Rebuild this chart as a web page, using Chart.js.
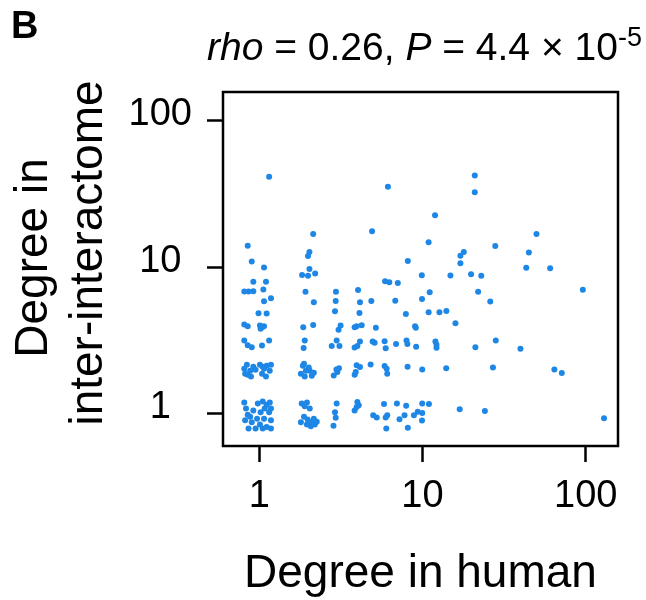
<!DOCTYPE html>
<html>
<head>
<meta charset="utf-8">
<script src="https://cdn.jsdelivr.net/npm/chart.js@4"></script>
<style>
  body { margin: 0; background: #fff; }
  canvas { display: block; }
</style>
</head>
<body>
<canvas id="chart" width="646" height="600"></canvas>
<script>
// degree of each protein in the human network (x) and in the inter-interactome (y), jittered
const humanDegree = [
  // ~1
  1.15, 0.85, 0.90, 1.07, 0.92, 1.10, 0.81, 0.86, 0.92, 1.06, 1.07, 1.18, 0.99, 1.11,
  0.81, 0.85, 1.01, 1.04, 1.07, 1.02, 0.81, 0.85, 0.90, 1.04, 1.15,
  0.81, 0.84, 0.88, 0.92, 0.85, 0.95, 0.89, 0.82, 1.01, 1.07, 1.11, 1.16, 1.04, 1.10, 1.18, 1.05,
  0.81, 0.83, 0.85, 0.82, 0.88, 0.92, 0.98, 1.05, 1.11, 1.16, 1.08, 1.02, 1.15, 0.97, 1.07, 1.18,
  1.01, 1.11, 0.86, 0.95, 1.05, 1.18, 0.90, 1.18,
  // ~2
  2.14, 2.03, 1.99, 2.03, 1.83, 1.99, 2.20, 1.92, 2.16, 1.86, 2.14, 1.90, 1.87,
  1.85, 1.93, 1.80, 2.01, 2.10, 2.16, 1.90, 1.88, 2.04,
  1.82, 1.90, 2.04, 1.96, 1.88, 1.98, 2.07, 2.16, 1.96, 1.80, 2.19, 2.07, 2.25,
  // ~3
  2.95, 2.94, 2.91, 3.15, 3.06, 2.78, 2.98, 3.10, 2.86, 2.97, 3.08, 3.01, 2.98, 2.91, 2.94, 2.85,
  // ~4
  4.03, 4.14, 4.11, 3.95, 4.24, 3.84, 3.84, 4.14, 3.99, 3.95, 3.90, 4.14, 3.84, 3.99, 4.07, 3.84, 3.95,
  // ~5
  4.91, 4.86, 5.18, 4.95, 5.09, 4.81, 4.99, 5.24,
  // ~6
  6.14, 5.90, 6.26, 5.86, 5.95, 5.86, 6.03, 6.08, 5.81, 5.95, 6.08, 6.00,
  // ~7, ~8
  7.06, 6.81, 6.89, 6.97, 7.23,
  8.13, 7.91, 7.98, 8.08, 8.10, 7.94, 8.13, 7.76,
  // ~9, ~10
  9.90, 9.00, 9.10, 9.14, 8.86, 9.35,
  9.93, 9.96, 9.96, 9.96, 9.93,
  // 11 and up
  10.9, 11.07, 10.9, 10.95, 11.93, 12.0, 12.18, 12.18, 12.7,
  14.0, 13.97, 14.83, 15.91, 16.9, 17.06, 17.06, 17.9, 19.84, 20.9, 20.9, 21.08, 21.9, 22.9,
  24.1, 26.0, 27.0, 27.9, 28.1, 39.8, 43.2, 44.8, 49.9, 60.5, 64.2, 71.3, 95.9, 129.3
];
const interDegree = [
  // ~1
  41.4, 14.0, 10.9, 9.95, 7.94, 7.94, 6.81, 6.81, 6.85, 7.02, 5.85, 6.12, 4.84, 4.82,
  4.06, 3.94, 3.99, 3.89, 3.95, 3.79, 3.15, 2.93, 2.84, 2.92, 3.15,
  2.02, 2.15, 1.96, 2.09, 1.84, 1.99, 1.79, 1.87, 2.15, 2.02, 2.12, 1.96, 1.87, 1.79, 2.15, 2.09,
  1.19, 1.08, 0.98, 0.90, 0.95, 1.05, 1.17, 1.21, 1.15, 1.19, 1.08, 1.02, 1.02, 0.92, 0.92, 0.90,
  0.84, 0.81, 0.79, 0.79, 0.79, 0.79, 0.87, 1.08,
  // ~2
  16.8, 12.7, 11.9, 9.69, 8.82, 8.73, 9.03, 6.79, 5.75, 3.89, 4.03, 3.15, 2.80,
  2.12, 1.96, 1.87, 2.06, 1.81, 1.90, 1.79, 2.19, 1.96,
  1.17, 1.12, 1.08, 1.19, 0.95, 0.91, 0.87, 0.92, 0.84, 0.87, 0.84, 0.82, 0.88,
  // ~3
  6.79, 5.87, 5.00, 3.99, 3.73, 2.89, 3.15, 2.89, 1.82, 2.00, 2.04, 1.92, 1.17, 1.02, 0.935, 0.825,
  // ~4
  6.98, 5.75, 4.86, 3.94, 4.00, 3.88, 2.82, 3.10, 2.89, 2.14, 1.92, 2.08, 1.84, 1.20, 1.14, 1.05, 1.11,
  // ~5
  17.6, 5.87, 3.85, 3.10, 3.04, 2.16, 0.974, 0.94,
  // ~6
  35.4, 8.00, 7.87, 3.12, 2.79, 2.11, 2.02, 1.87, 1.16, 0.94, 0.974, 0.79,
  // ~7, ~8
  7.78, 5.90, 2.98, 1.17, 0.915,
  10.99, 4.79, 3.15, 2.98, 2.09, 1.13, 0.80, 0.974,
  // ~9, ~10
  8.80, 3.95, 3.85, 2.86, 0.974, 1.03,
  6.06, 2.00, 1.17, 1.01, 0.896,
  // 11 and up
  14.8, 6.73, 4.92, 1.16, 22.6, 3.10, 2.95, 2.81, 4.92,
  5.02, 2.04, 8.76, 4.14, 1.07, 11.94, 10.64, 12.7, 8.95, 42.3, 32.5, 2.84, 6.79, 8.73,
  1.04, 5.82, 2.06, 13.96, 3.15, 2.77, 9.89, 12.6, 16.8, 9.84, 2.00, 1.89, 7.00, 0.93
];
const xTicks = [1, 10, 100];
const yTicks = [1, 10, 100];

const FONT = '"Liberation Sans", Arial, Helvetica, sans-serif';
const pointColor = '#1e87e6';

const annotations = {
  id: 'annotations',
  afterDraw(chart) {
    const { ctx, chartArea: a } = chart;
    ctx.save();
    // plot box
    ctx.strokeStyle = '#000';
    ctx.lineWidth = 2.5;
    ctx.strokeRect(a.left, a.top, a.right - a.left, a.bottom - a.top);

    ctx.fillStyle = '#000';
    ctx.textBaseline = 'alphabetic';

    // panel letter
    ctx.font = 'bold 38px ' + FONT;
    ctx.textAlign = 'left';
    ctx.fillText('B', 11, 38);

    // title: rho = 0.26, P = 4.4 x 10^-5
    const parts = [
      { text: 'rho', font: 'italic 39px ' + FONT },
      { text: ' = 0.26, ', font: '39px ' + FONT },
      { text: 'P', font: 'italic 39px ' + FONT },
      { text: ' = 4.4 \u00d7 10', font: '39px ' + FONT },
      { text: '-5', font: '27px ' + FONT, rise: 14 }
    ];
    let x = 207;
    parts.forEach(p => {
      ctx.font = p.font;
      ctx.fillText(p.text, x, 60 - (p.rise || 0));
      x += ctx.measureText(p.text).width;
    });

    // axis titles
    ctx.font = '46px ' + FONT;
    ctx.textAlign = 'center';
    ctx.fillText('Degree in human', (a.left + a.right) / 2, 587);

    ctx.translate(47, 258);
    ctx.rotate(-Math.PI / 2);
    ctx.fillText('Degree in', 0, 0);
    ctx.fillText('inter-interactome', 5, 55);
    ctx.restore();
  }
};

const tickGrid = {
  display: true,
  drawOnChartArea: false,
  drawTicks: true,
  tickLength: 16,
  tickWidth: 2.5,
  tickColor: '#000'
};

new Chart(document.getElementById('chart'), {
  type: 'scatter',
  data: {
    datasets: [{
      data: humanDegree.map((x, i) => ({ x: x, y: interDegree[i] })),
      backgroundColor: pointColor,
      borderWidth: 0,
      pointRadius: 3
    }]
  },
  options: {
    responsive: false,
    animation: false,
    layout: { padding: { left: 0, top: 92, right: 28, bottom: 0 } },
    plugins: { legend: { display: false }, tooltip: { enabled: false } },
    scales: {
      x: {
        type: 'logarithmic',
        min: 0.606,
        max: 157.5,
        afterFit: scale => { scale.height = 154; },
        afterBuildTicks: scale => { scale.ticks = xTicks.map(v => ({ value: v })); },
        grid: tickGrid,
        border: { display: false },
        ticks: {
          color: '#000',
          font: { family: FONT, size: 38 },
          padding: 12,
          maxRotation: 0,
          autoSkip: false,
          callback: v => String(v)
        }
      },
      y: {
        type: 'logarithmic',
        min: 0.615,
        max: 157,
        afterFit: scale => { scale.width = 223; },
        afterBuildTicks: scale => { scale.ticks = yTicks.map(v => ({ value: v })); },
        grid: tickGrid,
        border: { display: false },
        ticks: {
          color: '#000',
          font: { family: FONT, size: 38 },
          padding: 15,
          crossAlign: 'center',
          labelOffset: -6,
          autoSkip: false,
          callback: v => String(v)
        }
      }
    }
  },
  plugins: [annotations]
});
</script>
</body>
</html>
